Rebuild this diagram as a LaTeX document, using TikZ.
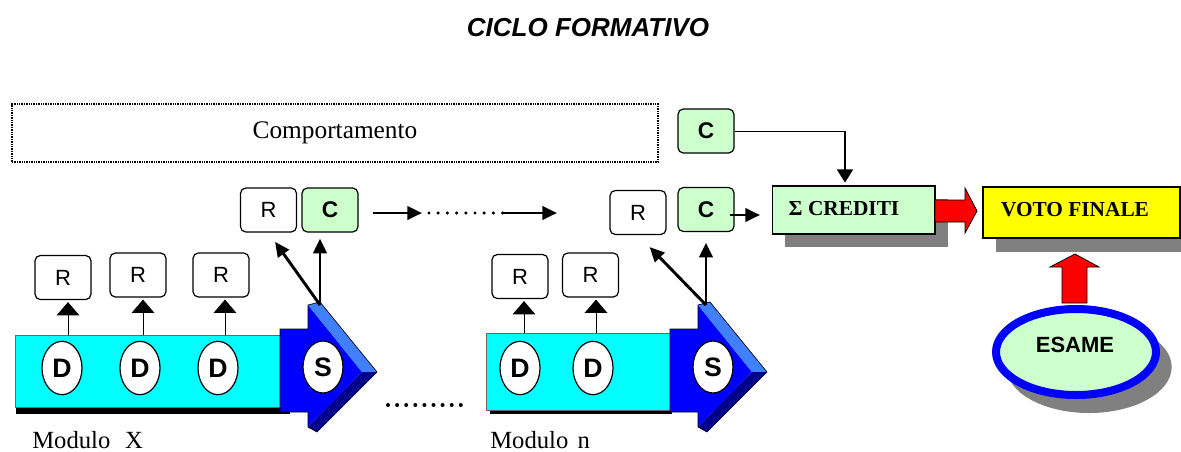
\documentclass[tikz,border=0pt]{standalone}
\usepackage{fontspec}
\setmainfont{Liberation Serif}
\setsansfont{Liberation Sans}
\usetikzlibrary{arrows.meta,shapes.geometric,calc}
\definecolor{lgreen}{HTML}{CCFFCC}
\definecolor{barcyan}{HTML}{00FFFF}
\definecolor{sblue}{HTML}{0000FF}
\definecolor{lblue}{HTML}{4080FF}
\definecolor{dblue}{HTML}{00008B}
\definecolor{shgray}{HTML}{808080}
\definecolor{vyellow}{HTML}{FFFF00}
\definecolor{ared}{HTML}{FF0000}
\newcommand{\fs}[1]{\fontsize{#1}{#1}\selectfont}
\begin{document}
\begin{tikzpicture}[x=0.75pt,y=-0.75pt,
  rbox/.style={draw, line width=0.9pt, rounded corners=4pt, fill=white, minimum width=42pt, minimum height=33pt, inner sep=0pt, font=\sffamily\fs{16.5}},
  cbox/.style={rbox, fill=lgreen, font=\sffamily\bfseries\fs{17}},
  dell/.style={ellipse, draw, line width=0.9pt, fill=white, minimum width=30pt, minimum height=40pt, inner sep=0pt, font=\sffamily\bfseries\fs{20}},
  thinarr/.style={line width=0.75pt, -{Triangle[width=17pt,length=10pt]}},
  thickarr/.style={line width=2.2pt, -{Triangle[width=10pt,length=11pt]}},
  vertarr/.style={line width=1.6pt, -{Triangle[width=12pt,length=10pt]}},
  redarrow/.style={fill=ared, draw=black, line width=0.6pt},
  bar/.style={fill=barcyan, draw=black!60, line width=0.4pt, inner sep=0pt},
  plain/.style={inner sep=0pt}
]
\useasboundingbox (0,0) rectangle (1181,451);

% title
\node[plain, font=\sffamily\bfseries\itshape\fs{19.5}] (title) at (588,28) {CICLO FORMATIVO};

% comportamento
\node[draw, line width=1.4pt, dash pattern=on 1.1pt off 0.7pt, minimum width=484.5pt, minimum height=43.5pt, inner sep=0pt, font=\fs{19}] (comp) at (335,133) {Comportamento};
\node[cbox] (c0) at (706,131) {C};

% sigma crediti
\fill[shgray] (785,199) rectangle (948,247);
\node[draw, line width=1pt, fill=lgreen, minimum width=122pt, minimum height=36pt, inner sep=0pt] (sigma) at (853.5,210) {};
\node[plain, font=\bfseries\fs{16}] (sigmatext) at (844,209) {Σ CREDITI};

% voto finale
\fill[shgray] (996,200) rectangle (1181,252);
\node[draw, line width=1pt, fill=vyellow, minimum width=147.75pt, minimum height=38.25pt, inner sep=0pt] (voto) at (1081.5,212.5) {};
\node[plain, font=\bfseries\fs{16}] (vototext) at (1075,210) {VOTO FINALE};

% red arrows
\draw[redarrow] (935,200) -- (965,200) -- (965,188) -- (977,211) -- (965,233) -- (965,222) -- (935,222) -- cycle;
\draw[redarrow] (1062,303) -- (1062,267) -- (1050,267) -- (1075,254) -- (1099,267) -- (1087,267) -- (1087,303) -- cycle;

% esame
\node[ellipse, fill=shgray, minimum width=124pt, minimum height=69pt, inner sep=0pt] (esameshadow) at (1089,367) {};
\node[ellipse, draw=sblue, line width=6pt, fill=lgreen, minimum width=120pt, minimum height=64.5pt, inner sep=0pt] (esame) at (1076,352) {};
\node[plain, font=\sffamily\bfseries\fs{16.5}] (esametext) at (1075,345) {ESAME};

% bars
\fill[black] (16,405) rectangle (290,414);
\node[bar, minimum width=198.75pt, minimum height=54pt] (xbar) at (147.5,371) {};
\fill[black] (490,408) rectangle (672,414);
\node[bar, minimum width=138pt, minimum height=57.75pt] (nbar) at (578,371.5) {};

% blue arrows
\foreach \L in {280,670}{
  \begin{scope}[shift={(\L,0)}]
    \fill[sblue] (0,329) -- (28,329) -- (28,305) -- (82,372) -- (28,427) -- (28,412) -- (0,412) -- cycle;
    \fill[lblue] (28,305) -- (40,302) -- (97,372) -- (82,372) -- cycle;
    \fill[dblue] (82,372) -- (97,372) -- (37,432) -- (28,427) -- cycle;
    \draw[black, line width=0.5pt] (0,329) -- (28,329) -- (28,305) -- (40,302) -- (97,372) -- (37,432) -- (28,427) -- (28,412) -- (0,412) -- cycle;
  \end{scope}
}

% D and S
\node[dell] (d1) at (62,368) {D};
\node[dell] (d2) at (140,368) {D};
\node[dell] (d3) at (218,368) {D};
\node[dell] (d4) at (520,368) {D};
\node[dell] (d5) at (593,368) {D};
\node[dell, minimum height=39pt] (s1) at (323,367) {S};
\node[dell, minimum height=39pt] (s2) at (713,367) {S};

% lower R boxes
\node[rbox] (r1) at (63,277.5) {R};
\node[rbox] (r2) at (138,275) {R};
\node[rbox] (r3) at (221,275) {R};
\node[rbox] (r6) at (520,276.5) {R};
\node[rbox] (r7) at (590.5,275) {R};

% upper R/C boxes
\node[rbox] (r4) at (268.5,210) {R};
\node[cbox] (c1) at (330,210) {C};
\node[rbox] (r5) at (638,212.5) {R};
\node[cbox] (c2) at (706,209.5) {C};

% thin arrows from bars to R
\coordinate (a1) at (68,335);
\coordinate (a2) at (143,335);
\coordinate (a3) at (225,335);
\coordinate (a6) at (524,333);
\coordinate (a7) at (596,333);
\draw[thinarr, shorten >=1.5pt] (a1) -- (a1 |- r1.south);
\draw[thinarr, shorten >=1.5pt] (a2) -- (a2 |- r2.south);
\draw[thinarr, shorten >=1.5pt] (a3) -- (a3 |- r3.south);
\draw[thinarr, shorten >=1.5pt] (a6) -- (a6 |- r6.south);
\draw[thinarr, shorten >=1.5pt] (a7) -- (a7 |- r7.south);

% arrows from S
\coordinate (s1top) at (320,305);
\coordinate (s2top) at (706,305);
\draw[thickarr, shorten >=4.5pt] (s1top) -- (s1top |- c1.south);
\draw[thickarr, shorten >=8.5pt] (s1top) -- (r4.south);
\draw[thickarr, shorten >=8pt] (s2top) -- (s2top |- c2.south);
\draw[thickarr, shorten >=12.5pt] (s2top) -- (r5.south);

% horizontal arrows
\coordinate (dotsL) at (422,213);
\coordinate (dotsR) at (503,213);
\coordinate (nextin) at (557,213);
\draw[thickarr] ($(c1.east)+(14,3)$) -- (dotsL);
\foreach \i in {0,...,8} \fill ($(dotsL)+(7+\i*9.2,0)$) circle (1.3pt);
\draw[thickarr] (dotsR) -- (nextin);
\coordinate (cin) at (760,215);
\draw[thickarr] ($(c2.east)+(-5,5.5)$) -- (cin);

% top C to sigma
\coordinate (corner) at (845,131);
\draw[line width=0.75pt] (c0.east) -- (corner);
\draw[vertarr, shorten >=2pt] (corner) -- (corner |- sigma.north);

% bottom dots
\coordinate (bdots) at (388,405);
\foreach \i in {0,...,8} \fill ($(bdots)+(\i*9.1,0)$) circle (1.5pt);

% module labels
\node[plain, anchor=base west, font=\fs{18.5}] (modx) at (32,448) {Modulo\hspace{11pt}X};
\node[plain, anchor=base west, font=\fs{18.5}] (modn) at (490,448) {Modulo\hspace{7pt}n};
\end{tikzpicture}
\end{document}
